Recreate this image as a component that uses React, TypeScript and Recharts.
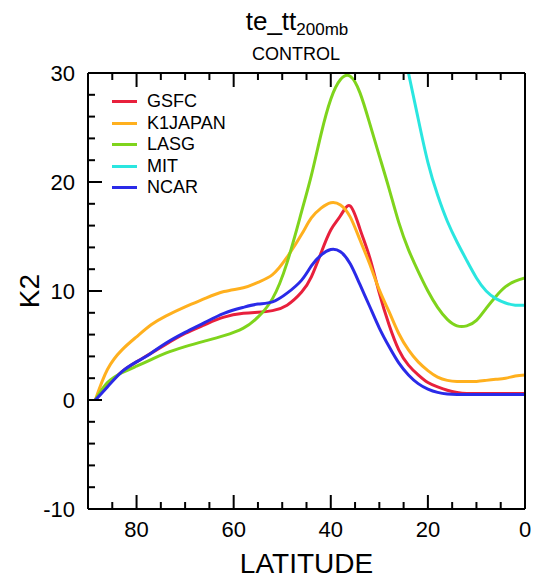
import React from "react";
import { LineChart, Line, XAxis, YAxis, Legend } from "recharts";

// latitude grid (deg N), shared by every series
const latitudes = [
  88.5, 86, 83, 80, 77, 74, 70, 66, 62, 58, 55, 52, 49, 46, 44, 42, 40, 38, 36,
  34, 32, 30, 28, 26, 24, 22, 20, 18, 16, 14, 12, 10, 8, 6, 4, 2, 0,
];

const gsfc = [
  0, 1.3, 2.6, 3.5, 4.3, 5.1, 6.1, 6.9, 7.6, 7.95, 8.05, 8.2, 8.7, 9.9, 11.3, 13.5, 15.6, 16.9, 17.8,
  15.7, 13.1, 9.8, 6.9, 4.6, 3.2, 2.3, 1.6, 1.2, 0.9, 0.7, 0.6, 0.6, 0.6, 0.6, 0.6, 0.6, 0.6,
];
const k1japan = [
  0, 2.8, 4.6, 5.8, 6.9, 7.7, 8.55, 9.3, 9.95, 10.3, 10.8, 11.5, 13.1, 15.2, 16.7, 17.6, 18.1, 17.9, 16.8,
  14.7, 12.5, 10.1, 8.1, 6.1, 4.6, 3.5, 2.7, 2.1, 1.8, 1.7, 1.7, 1.7, 1.8, 1.9, 2.0, 2.2, 2.3,
];
const lasg = [
  0, 1.6, 2.5, 3.1, 3.7, 4.3, 4.9, 5.4, 5.9, 6.6, 7.6, 9.3, 12.6, 17.3, 20.6, 24.4, 27.6, 29.4, 29.7,
  28.2, 25.4, 22.4, 19.4, 16.3, 13.8, 11.8, 10.0, 8.5, 7.4, 6.8, 6.8, 7.3, 8.4, 9.5, 10.4, 10.9, 11.2,
];
const mit = [
  null, null, null, null, null, null, null, null, null, null, null, null, null, null, null, null, null, null, null,
  null, null, null, null, 34, 30, 25.8, 21.8, 18.8, 16.4, 14.5, 12.8, 11.2, 10.0, 9.3, 8.9, 8.7, 8.7,
];
const ncar = [
  0, 1.2, 2.6, 3.5, 4.3, 5.2, 6.2, 7.1, 7.95, 8.5, 8.8, 9.0, 9.8, 11.0, 12.3, 13.3, 13.8, 13.6, 12.5,
  10.6, 8.6, 6.6, 4.9, 3.4, 2.3, 1.5, 1.0, 0.7, 0.55, 0.5, 0.5, 0.5, 0.5, 0.5, 0.5, 0.5, 0.5,
];

const xTicks = [0, 5, 10, 15, 20, 25, 30, 35, 40, 45, 50, 55, 60, 65, 70, 75, 80, 85, 90];
const yTicks = [-10, -8, -6, -4, -2, 0, 2, 4, 6, 8, 10, 12, 14, 16, 18, 20, 22, 24, 26, 28, 30];

const data = latitudes.map((lat, i) => ({
  lat,
  GSFC: gsfc[i],
  K1JAPAN: k1japan[i],
  LASG: lasg[i],
  MIT: mit[i],
  NCAR: ncar[i],
}));

const FONT = "'Liberation Sans', Arial, Helvetica, sans-serif";
const PLOT = { left: 88, right: 525, top: 73, bottom: 509 };

const BottomTick = (props: any) => {
  const { x, payload } = props;
  const major = payload.value % 20 === 0;
  return (
    <g>
      <line x1={x} x2={x} y1={PLOT.bottom} y2={PLOT.bottom - (major ? 14 : 7)} stroke="#000" strokeWidth={2} />
      {major && (
        <text x={x} y={537} textAnchor="middle" fontSize={22} fontFamily={FONT} fill="#000">
          {payload.value}
        </text>
      )}
    </g>
  );
};

const TopTick = (props: any) => {
  const { x, payload } = props;
  const major = payload.value % 20 === 0;
  return <line x1={x} x2={x} y1={PLOT.top} y2={PLOT.top + (major ? 14 : 7)} stroke="#000" strokeWidth={2} />;
};

const LeftTick = (props: any) => {
  const { y, payload } = props;
  const major = payload.value % 10 === 0;
  return (
    <g>
      <line x1={PLOT.left} x2={PLOT.left + (major ? 14 : 7)} y1={y} y2={y} stroke="#000" strokeWidth={2} />
      {major && (
        <text x={75} y={y + 8} textAnchor="end" fontSize={22} fontFamily={FONT} fill="#000">
          {payload.value}
        </text>
      )}
    </g>
  );
};

const RightTick = (props: any) => {
  const { y, payload } = props;
  const major = payload.value % 10 === 0;
  return <line x1={PLOT.right} x2={PLOT.right - (major ? 14 : 7)} y1={y} y2={y} stroke="#000" strokeWidth={2} />;
};

const renderLegend = (props: any) => (
  <div style={{ fontFamily: FONT, fontSize: 18, color: "#000" }}>
    {props.payload.map((entry: any) => (
      <div key={entry.value} style={{ display: "flex", alignItems: "center", height: 21.5 }}>
        <span style={{ display: "inline-block", width: 25, height: 3, background: entry.color, marginRight: 10 }} />
        <span>{entry.value}</span>
      </div>
    ))}
  </div>
);

const App: React.FC = () => (
  <div style={{ position: "absolute", left: 0, top: 0, width: 538, height: 581, background: "#fff" }}>
    <div
      style={{
        position: "absolute", left: 297, top: 6, transform: "translateX(-50%)",
        fontFamily: FONT, fontSize: 26, whiteSpace: "nowrap", lineHeight: "30px",
      }}
    >
      te_tt<sub style={{ fontSize: 17, verticalAlign: "-5px" }}>200mb</sub>
    </div>
    <div
      style={{
        position: "absolute", left: 296, top: 44, transform: "translateX(-50%)",
        fontFamily: FONT, fontSize: 18, whiteSpace: "nowrap",
      }}
    >
      CONTROL
    </div>
    <div
      style={{
        position: "absolute", left: 30, top: 291, transform: "translate(-50%, -50%) rotate(-90deg)",
        fontFamily: FONT, fontSize: 28, whiteSpace: "nowrap",
      }}
    >
      K2
    </div>
    <LineChart width={538} height={581} data={data} margin={{ top: 0, right: 0, bottom: 0, left: 0 }}>
      <XAxis
        dataKey="lat" type="number" domain={[0, 90]} reversed ticks={xTicks} interval={0}
        height={72} axisLine={{ stroke: "#000", strokeWidth: 2 }} tickLine={false} tick={<BottomTick />}
        label={{ value: "LATITUDE", position: "insideBottom", offset: 8, fontSize: 28, fontFamily: FONT, fill: "#000" }}
      />
      <XAxis
        xAxisId="top" orientation="top" dataKey="lat" type="number" domain={[0, 90]} reversed ticks={xTicks} interval={0}
        height={73} axisLine={{ stroke: "#000", strokeWidth: 2 }} tickLine={false} tick={<TopTick />}
      />
      <YAxis
        type="number" domain={[-10, 30]} allowDataOverflow ticks={yTicks} interval={0} width={88}
        axisLine={{ stroke: "#000", strokeWidth: 2 }} tickLine={false} tick={<LeftTick />}
      />
      <YAxis
        yAxisId="right" orientation="right" type="number" domain={[-10, 30]} ticks={yTicks} interval={0} width={13}
        axisLine={{ stroke: "#000", strokeWidth: 2 }} tickLine={false} tick={<RightTick />}
      />
      <Legend
        layout="vertical" align="center" verticalAlign="middle" content={renderLegend}
        wrapperStyle={{ left: 112, top: 91, width: 150 }}
      />
      <Line name="GSFC" dataKey="GSFC" type="natural" stroke="#e8203c" strokeWidth={3} dot={false} isAnimationActive={false} />
      <Line name="K1JAPAN" dataKey="K1JAPAN" type="natural" stroke="#ffb01e" strokeWidth={3} dot={false} isAnimationActive={false} />
      <Line name="LASG" dataKey="LASG" type="natural" stroke="#7fd41c" strokeWidth={3} dot={false} isAnimationActive={false} />
      <Line name="MIT" dataKey="MIT" type="natural" stroke="#2ae6e0" strokeWidth={3} dot={false} isAnimationActive={false} />
      <Line name="NCAR" dataKey="NCAR" type="natural" stroke="#2a2ae8" strokeWidth={3} dot={false} isAnimationActive={false} />
    </LineChart>
  </div>
);

export default App;
